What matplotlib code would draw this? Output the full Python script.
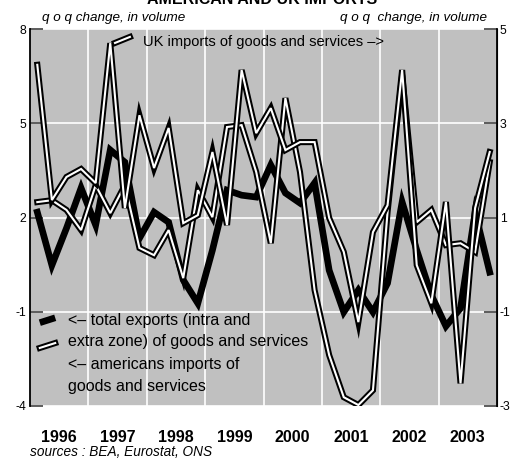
import matplotlib
matplotlib.use("Agg")
import matplotlib.pyplot as plt
import matplotlib.patheffects as pe
import pandas as pd

plt.rcParams['font.family'] = ['Liberation Sans', 'DejaVu Sans']
plt.rcParams['axes.unicode_minus'] = False

# quarterly data, q o q change in volume (%), 1996Q1 - 2003Q4
quarters = pd.period_range('1996Q1', '2003Q4', freq='Q')
total_exports = [2.17, 0.48, 1.66, 2.94, 1.76, 4.15, 3.76, 1.34,
                 2.17, 1.85, 0.01, -0.73, 0.96, 2.87, 2.71, 2.65,
                 3.67, 2.78, 2.46, 3.10, 0.32, -1.01, -0.31, -1.01,
                 -0.09, 2.49, 0.96, -0.47, -1.46, -0.89, 2.17, 0.26]
us_imports = [2.49, 2.55, 2.24, 1.60, 3.03, 2.14, 3.03, 1.03,
              0.80, 1.60, 0.07, 2.87, 2.01, 4.88, 4.94, 3.45,
              1.18, 5.80, 3.45, -0.31, -2.38, -3.72, -3.97, -3.50,
              2.17, 6.54, 1.85, 2.24, 1.12, 1.18, 0.90, 3.76]
uk_imports = [4.24, 1.37, 1.86, 2.03, 1.73, 4.70, 1.20, 3.17,
              2.05, 2.90, 0.88, 1.05, 2.39, 0.84, 4.13, 2.79,
              3.32, 2.43, 2.60, 2.60, 0.99, 0.27, -1.22, 0.69,
              1.26, 4.13, -0.01, -0.82, 1.33, -2.52, 1.20, 2.39]

years = ['1996', '1997', '1998', '1999', '2000', '2001', '2002', '2003']
left_ticks = [-4, -1, 2, 5, 8]
right_ticks = [-3, -1, 1, 3, 5]

x = [q.year + (q.quarter - 0.5) / 4 for q in quarters]

fig = plt.figure(figsize=(5.16, 4.59), dpi=100)
ax = fig.add_axes([30 / 516, 53 / 459, 467 / 516, 377 / 459])
ax.set_facecolor('#c0c0c0')

ax.set_xlim(1996, 2004)
ax.set_ylim(-4, 8)
ax.set_xticks([int(y) + 0.5 for y in years])
ax.set_xticklabels(years, fontweight='bold', fontsize=11.5)
ax.set_xticks([int(y) for y in years[1:]], minor=True)
ax.tick_params(axis='x', which='both', length=0, pad=17)
ax.set_yticks(left_ticks)
ax.set_yticklabels([str(v) for v in left_ticks], fontsize=8.8)
ax.tick_params(axis='y', direction='in', length=9.5, width=1.3, color='#505050', pad=3)
ax.grid(which='minor', axis='x', color='white', lw=1.2)
ax.grid(which='major', axis='y', color='white', lw=1.2)
ax.set_axisbelow(True)
for s in ['top', 'bottom']:
    ax.spines[s].set_visible(False)
ax.spines['left'].set_linewidth(1.3)

outline = [pe.Stroke(linewidth=4.4, foreground='black'), pe.Normal()]

ax.plot(x, total_exports, color='black', lw=4.8, solid_joinstyle='miter', zorder=3)
ax.plot(x, us_imports, color='white', lw=1.5, solid_joinstyle='miter',
        path_effects=outline, zorder=4)

ax2 = ax.twinx()
ax2.set_ylim(-3, 5)
ax2.set_yticks(right_ticks)
ax2.set_yticklabels([str(v) for v in right_ticks], fontsize=8.8)
ax2.tick_params(axis='y', direction='in', length=9.5, width=1.3, color='#505050', pad=2)
for s in ['top', 'bottom', 'left']:
    ax2.spines[s].set_visible(False)
ax2.spines['right'].set_linewidth(1.3)
ax2.plot(x, uk_imports, color='white', lw=1.5, solid_joinstyle='miter',
         path_effects=outline, zorder=4)

# legend samples and labels
ax.plot([0.021, 0.054], [0.221, 0.234], transform=ax.transAxes, color='black',
        lw=4.8, solid_capstyle='butt', zorder=5)
ax.plot([0.021, 0.054], [0.154, 0.167], transform=ax.transAxes, color='white',
        lw=1.5, path_effects=outline, zorder=5)
ax2.plot([0.182, 0.214], [0.963, 0.979], transform=ax2.transAxes, color='white',
         lw=1.5, path_effects=outline, zorder=5)

ax.text(0.081, 0.226, '<\u2013 total exports (intra and', transform=ax.transAxes,
        fontsize=11.5, va='center', zorder=6)
ax.text(0.081, 0.170, 'extra zone) of goods and services', transform=ax.transAxes,
        fontsize=11.5, va='center', zorder=6)
ax.text(0.081, 0.111, '<\u2013 americans imports of', transform=ax.transAxes,
        fontsize=11.5, va='center', zorder=6)
ax.text(0.081, 0.053, 'goods and services', transform=ax.transAxes,
        fontsize=11.5, va='center', zorder=6)
ax2.text(0.242, 0.966, 'UK imports of goods and services \u2013>', transform=ax2.transAxes,
         fontsize=10.5, va='center', zorder=6)

fig.text(0.508, 0.991, 'AMERICAN AND UK IMPORTS', ha='center', va='baseline',
         fontsize=11.5, fontweight='bold')
fig.text(42 / 516, 1 - 20.5 / 459, 'q o q change, in volume', ha='left', va='baseline',
         fontsize=9.7, style='italic')
fig.text(487 / 516, 1 - 20.5 / 459, 'q o q  change, in volume', ha='right', va='baseline',
         fontsize=9.7, style='italic')
fig.text(30 / 516, 1 - 452 / 459, 'sources : BEA, Eurostat, ONS', ha='left', va='center',
         fontsize=9.8, style='italic')

fig.savefig('out.png', dpi=100)
